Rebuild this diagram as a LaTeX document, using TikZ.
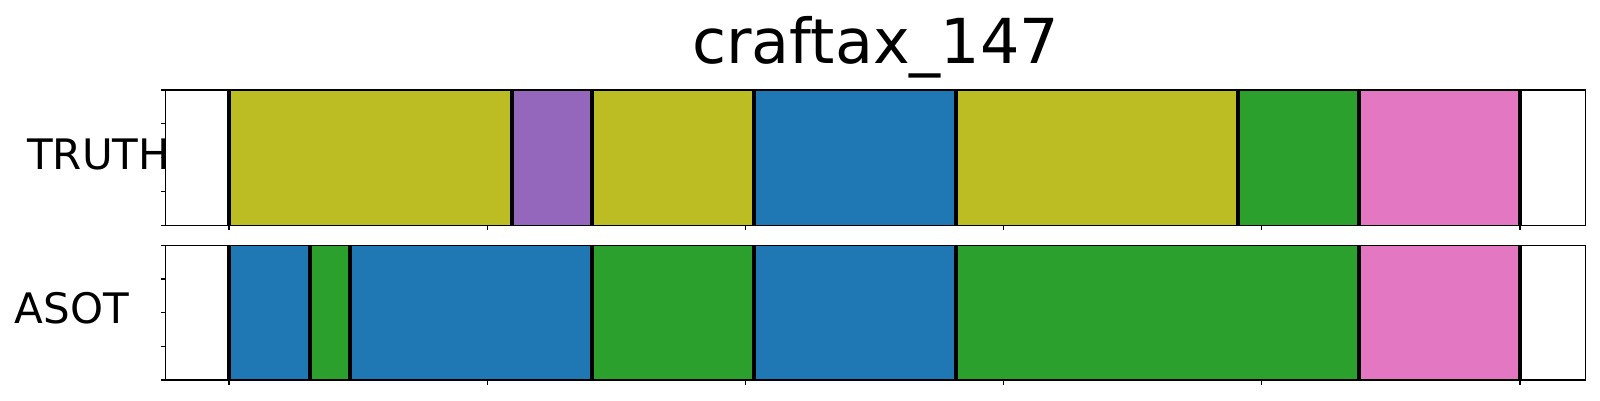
\documentclass[tikz,border=0pt]{standalone}
\usepackage{fontspec}
\setmainfont{DejaVu Sans}
\definecolor{tabolive}{HTML}{BCBD22}
\definecolor{tabpurple}{HTML}{9467BD}
\definecolor{tabblue}{HTML}{1F77B4}
\definecolor{tabgreen}{HTML}{2CA02C}
\definecolor{tabpink}{HTML}{E377C2}
\tikzset{
  spine/.style={line width=1.2pt, draw=black},
  boundary/.style={line width=4pt, draw=black},
  tickmark/.style={line width=1.1pt, draw=black},
  rowlabel/.style={font=\fontsize{42}{50}\selectfont, inner sep=0pt, anchor=base west},
  titlelabel/.style={font=\fontsize{62}{74}\selectfont, inner sep=0pt, anchor=base}
}
\begin{document}
\begin{tikzpicture}[x=1pt,y=-1pt]
\useasboundingbox (0,0) rectangle (1600,400);
\fill[white] (0,0) rectangle (1600,400);

% axes extents
\def\axL{165.7}\def\axR{1585.7}
\def\tT{90}\def\tB{225.3}
\def\bT{245.3}\def\bB{380}

% TRUTH segments
\foreach \a/\b/\c in {229/512/tabolive, 512/592/tabpurple, 592/754/tabolive, 754/956/tabblue, 956/1237.7/tabolive, 1237.7/1359/tabgreen, 1359/1520/tabpink}
  \fill[\c] (\a,\tT) rectangle (\b,\tB);
% ASOT segments
\foreach \a/\b/\c in {229/310/tabblue, 310/350/tabgreen, 350/592/tabblue, 592/754/tabgreen, 754/956/tabblue, 956/1359/tabgreen, 1359/1520/tabpink}
  \fill[\c] (\a,\bT) rectangle (\b,\bB);

% boundaries
\foreach \x in {229,512,592,754,956,1237.7,1359,1520}
  \draw[boundary] (\x,\tT) -- (\x,\tB);
\foreach \x in {229,310,350,592,754,956,1359,1520}
  \draw[boundary] (\x,\bT) -- (\x,\bB);

% spines
\draw[spine] (\axL,\tT) rectangle (\axR,\tB);
\draw[spine] (\axL,\bT) rectangle (\axR,\bB);

% y ticks
\foreach \y in {90,123.8,157.7,191.5,225.3}
  \draw[tickmark] (\axL,\y) -- ++(-5,0);
\foreach \y in {245.3,279,312.7,346.3,380}
  \draw[tickmark] (\axL,\y) -- ++(-5,0);
% x ticks
\foreach \x in {229,487.2,745.4,1003.6,1261.8,1520}{
  \draw[tickmark] (\x,\tB) -- ++(0,5);
  \draw[tickmark] (\x,\bB) -- ++(0,5);
}

% labels
\node[titlelabel] (title) at (875.7,63.3) {craftax\_147};
\node[rowlabel] (truth) at (27,169.3) {TRUTH};
\node[rowlabel] (asot) at (14.5,323.3) {ASOT};
\end{tikzpicture}
\end{document}
